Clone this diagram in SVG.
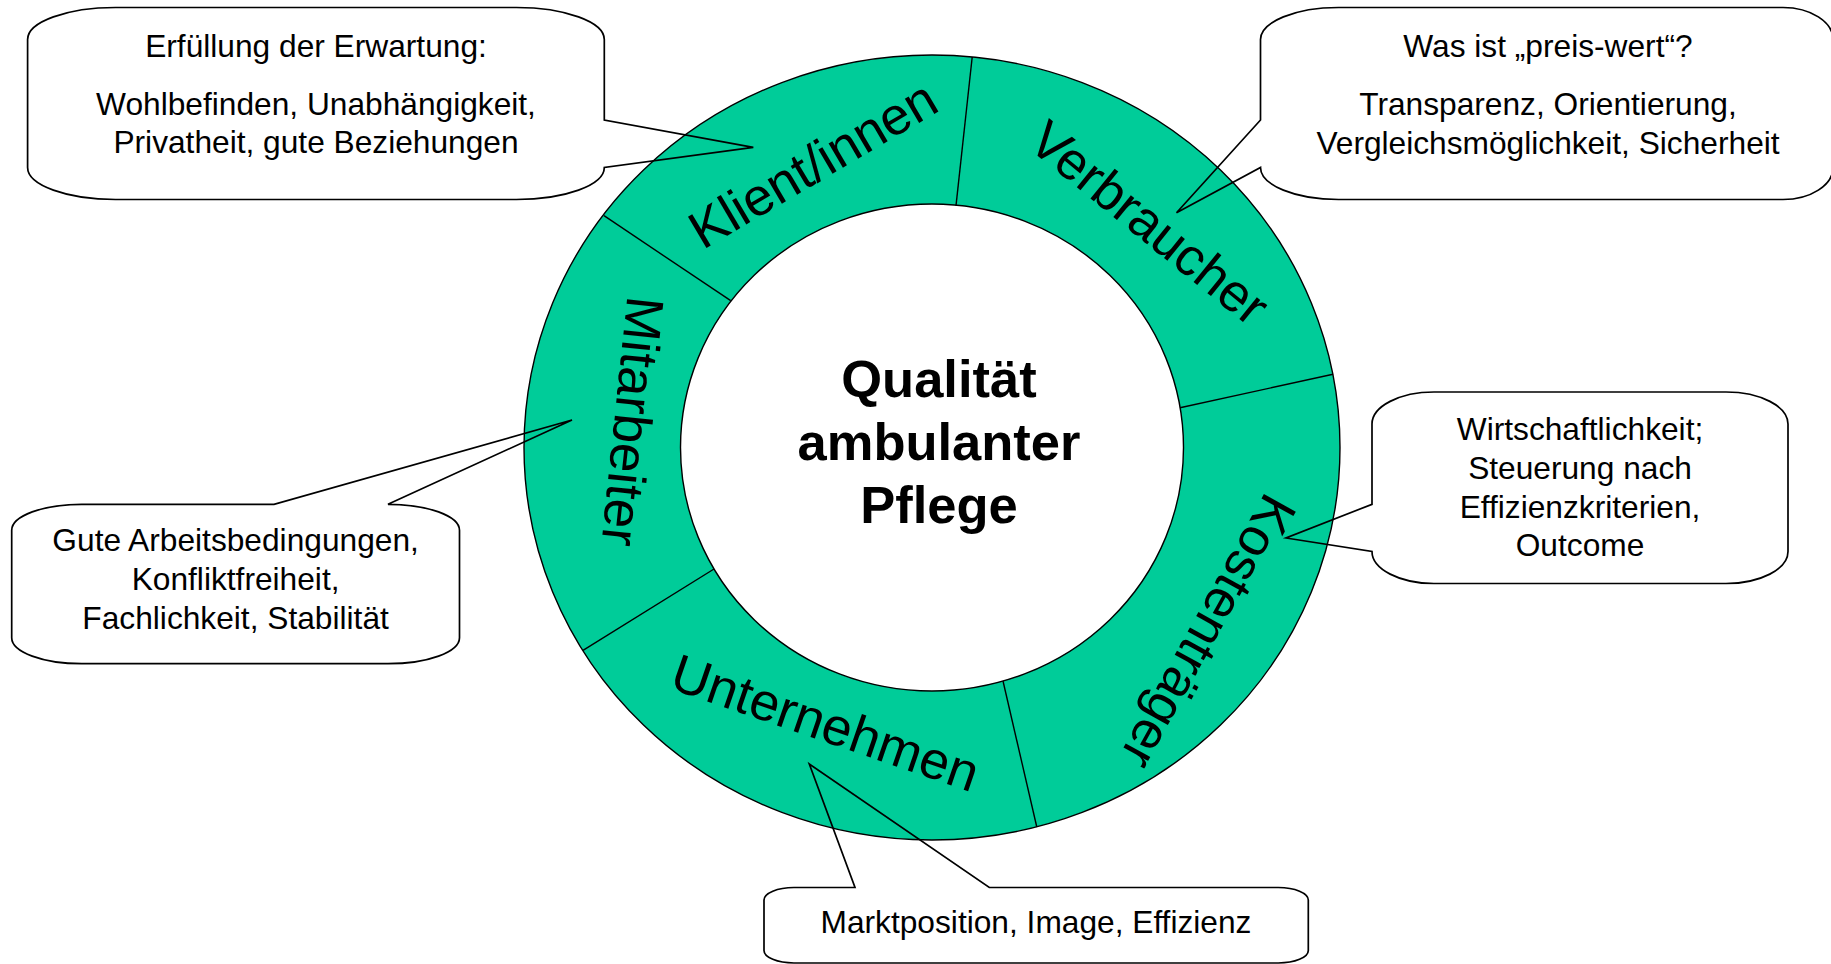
<svg xmlns="http://www.w3.org/2000/svg" width="1831" height="964" viewBox="0 0 1831 964">
<style>
  .ring { fill: #00CC99; fill-rule: evenodd; stroke: #000; stroke-width: 1.4; }
  .div { stroke: #000; stroke-width: 1.4; fill: none; }
  .callout { fill: none; stroke: #000; stroke-width: 1.7; stroke-linejoin: miter; }
  .ct { font-family: "Liberation Sans", Arial, sans-serif; font-size: 31.7px; fill: #000; text-anchor: middle; }
  .lbl { font-family: "Liberation Sans", Arial, sans-serif; font-size: 53px; fill: #000; text-anchor: middle; }
  .title { font-family: "Liberation Sans", Arial, sans-serif; font-size: 52.5px; font-weight: bold; fill: #000; text-anchor: middle; }
</style>
<rect x="0" y="0" width="1831" height="964" fill="#fff"/>

<g id="ring">
  <path class="ring" d="M 524 447.5 A 408 392.5 0 1 0 1340 447.5 A 408 392.5 0 1 0 524 447.5 Z M 680.5 447.5 A 251.5 243.5 0 1 0 1183.5 447.5 A 251.5 243.5 0 1 0 680.5 447.5 Z"/>
</g>

<g id="dividers">
  <line class="div" x1="972.2" y1="57" x2="956" y2="205.7"/>
  <line class="div" x1="1333" y1="374.3" x2="1180" y2="407.7"/>
  <line class="div" x1="1003" y1="681" x2="1036.8" y2="827"/>
  <line class="div" x1="714" y1="569" x2="583" y2="650.4"/>
  <line class="div" x1="604" y1="215.7" x2="730.7" y2="300.7"/>
</g>

<g id="center">
  <text class="title" x="939" y="396.5">Qualität</text>
  <text class="title" x="939" y="459.5">ambulanter</text>
  <text class="title" x="939" y="522.5">Pflege</text>
</g>

<g id="seg-klient">
  <text class="lbl" transform="translate(822,180) rotate(-30.5)">Klient/innen</text>
</g>
<g id="seg-verbraucher">
  <text class="lbl" transform="translate(1138,237) rotate(39)">Verbraucher</text>
</g>
<g id="seg-kostentraeger">
  <text class="lbl" transform="translate(1192.4,623) rotate(119)">Kostenträger</text>
</g>
<g id="seg-unternehmen">
  <text class="lbl" transform="translate(819.5,740) rotate(19)">Unternehmen</text>
</g>
<g id="seg-mitarbeiter">
  <text class="lbl" transform="translate(614.4,419.5) rotate(96)">Mitarbeiter</text>
</g>

<g id="callout-klient">
  <path class="callout" d="M 115.6 7.5 H 516.3 A 88 32 0 0 1 604.3 39.5 V 120 L 753.3 147.3 L 604.3 167.5 A 88 32 0 0 1 516.3 199.5 H 115.6 A 88 32 0 0 1 27.6 167.5 V 39.5 A 88 32 0 0 1 115.6 7.5 Z"/>
  <text class="ct" x="316" y="56.5">Erfüllung der Erwartung:</text>
  <text class="ct" x="316" y="114.8">Wohlbefinden, Unabhängigkeit,</text>
  <text class="ct" x="316" y="153.2">Privatheit, gute Beziehungen</text>
</g>

<g id="callout-verbraucher">
  <path class="callout" d="M 1338.5 7.5 H 1783 A 50 32 0 0 1 1833 39.5 V 167.5 A 50 32 0 0 1 1783 199.5 H 1338.5 A 78 32 0 0 1 1260.5 167.5 L 1176.5 212.7 L 1260.5 120 V 39.5 A 78 32 0 0 1 1338.5 7.5 Z"/>
  <text class="ct" x="1548" y="56.5">Was ist „preis-wert“?</text>
  <text class="ct" x="1548" y="114.5">Transparenz, Orientierung,</text>
  <text class="ct" x="1548" y="153.5">Vergleichsmöglichkeit, Sicherheit</text>
</g>

<g id="callout-kostentraeger">
  <path class="callout" d="M 1434 392 H 1726 A 62 32 0 0 1 1788 424 V 551.5 A 62 32 0 0 1 1726 583.5 H 1434 A 62 32 0 0 1 1372 551.5 L 1286 538 L 1372 504.3 V 424 A 62 32 0 0 1 1434 392 Z"/>
  <text class="ct" x="1580" y="440">Wirtschaftlichkeit;</text>
  <text class="ct" x="1580" y="478.8">Steuerung nach</text>
  <text class="ct" x="1580" y="517.5">Effizienzkriterien,</text>
  <text class="ct" x="1580" y="556.2">Outcome</text>
</g>

<g id="callout-mitarbeiter">
  <path class="callout" d="M 81.7 504.3 H 274 L 572 420 L 388 504.3 A 71.5 26 0 0 1 459.5 530.3 V 637.7 A 71.5 26 0 0 1 388 663.7 H 81.7 A 70 26 0 0 1 11.7 637.7 V 530.3 A 70 26 0 0 1 81.7 504.3 Z"/>
  <text class="ct" x="235.6" y="550.5">Gute Arbeitsbedingungen,</text>
  <text class="ct" x="235.6" y="589.6">Konfliktfreiheit,</text>
  <text class="ct" x="235.6" y="628.5">Fachlichkeit, Stabilität</text>
</g>

<g id="callout-unternehmen">
  <path class="callout" d="M 794 887.5 H 855 L 809.3 764 L 989.3 887.5 H 1278.3 A 30 12.5 0 0 1 1308.3 900 V 950.5 A 30 12.5 0 0 1 1278.3 963 H 794 A 30 12.5 0 0 1 764 950.5 V 900 A 30 12.5 0 0 1 794 887.5 Z"/>
  <text class="ct" x="1036" y="932.5">Marktposition, Image, Effizienz</text>
</g>
</svg>
